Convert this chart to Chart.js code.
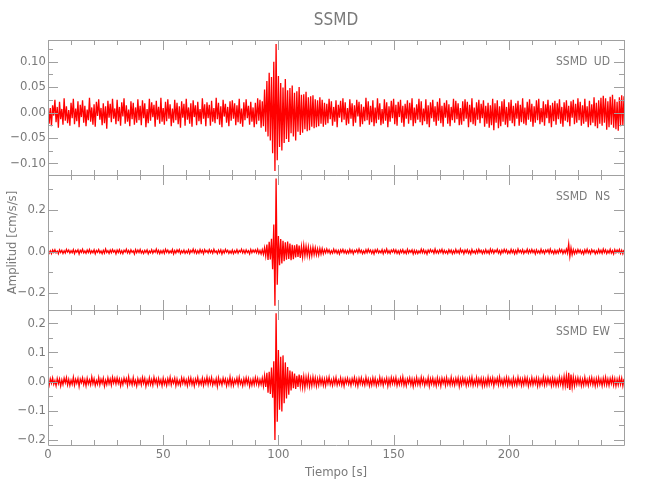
<!DOCTYPE html>
<html>
<head>
<meta charset="utf-8">
<title>SSMD</title>
<script src="https://cdn.jsdelivr.net/npm/chart.js@4.4.0/dist/chart.umd.min.js"></script>
<style>
  html, body { margin: 0; padding: 0; background: #fff; }
  #wrap { position: relative; width: 650px; height: 500px; }
  #wrap canvas { position: absolute; left: 0; top: 0; }
</style>
</head>
<body>
<div id="wrap">
  <canvas id="udChart" width="650" height="500"></canvas>
  <canvas id="nsChart" width="650" height="500"></canvas>
  <canvas id="ewChart" width="650" height="500"></canvas>
</div>
<script>
const station = 'SSMD';
const sampleStep = 0.5;   // seconds between samples
const timeMax = 250;
const timeTicks = [0, 50, 100, 150, 200];

// traces in 1e-3 cm/s/s, one sample every 0.5 s (one row = 10 s)
const udTrace = [
  18,-22,9,-27,14,-6,25,-19,11,-30,21,-13,7,-24,28,-16,12,-21,5,-26,
  19,-11,27,-23,8,-17,22,-29,15,-9,24,-20,13,-27,6,-15,29,-18,10,-24,
  16,-28,21,-7,26,-14,9,-25,18,-21,12,-32,23,-10,17,-19,27,-12,8,-23,
  25,-17,11,-26,20,-8,28,-22,14,-18,6,-27,22,-13,19,-24,10,-20,26,-15,
  13,-25,24,-11,18,-29,7,-21,27,-16,20,-9,15,-28,23,-14,11,-22,29,-18,
  9,-24,21,-17,26,-12,16,-27,8,-20,25,-15,19,-23,12,-30,22,-10,17,-26,
  27,-14,10,-22,18,-28,24,-9,14,-25,21,-17,7,-23,28,-12,16,-27,20,-11,
  15,-26,23,-18,9,-21,29,-13,19,-24,12,-29,25,-8,17,-20,11,-27,22,-16,
  24,-12,18,-25,14,-19,27,-22,8,-28,20,-15,26,-11,13,-24,21,-18,10,-29,
  19,-23,28,-16,25,-30,22,-27,45,-38,62,-47,78,-55,70,-80,100,-115,135,-94,
  72,-68,58,-75,49,-60,66,-52,44,-58,48,-41,53,-47,39,-55,42,-38,50,-44,
  35,-40,36,-33,41,-37,30,-35,32,-28,34,-31,26,-29,24,-27,30,-22,25,-28,
  19,-24,17,-21,27,-13,22,-26,11,-18,24,-29,15,-10,23,-19,28,-14,20,-25,
  9,-22,26,-12,18,-27,14,-20,25,-8,21,-28,16,-23,11,-17,29,-15,22,-24,
  13,-19,24,-27,10,-21,28,-14,18,-25,7,-22,26,-16,20,-29,12,-18,23,-11,
  27,-23,15,-26,21,-9,25,-20,13,-28,17,-12,24,-22,19,-15,28,-27,10,-21,
  16,-14,27,-19,22,-25,8,-17,26,-23,14,-29,20,-11,25,-18,12,-26,21,-16,
  28,-21,13,-28,19,-10,24,-22,16,-27,11,-15,27,-20,23,-13,18,-25,9,-24,
  22,-17,26,-12,21,-29,15,-19,28,-23,10,-26,20,-14,25,-21,17,-11,24,-28,
  13,-22,19,-30,14,-25,27,-35,18,-20,24,-31,12,-27,22,-18,26,-24,11,-29,
  20,-16,25,-21,13,-27,18,-12,23,-26,15,-19,28,-22,10,-25,21,-14,26,-18,
  17,-28,12,-20,24,-15,27,-23,9,-19,22,-26,16,-11,25,-21,14,-29,19,-17,
  23,-24,18,-13,26,-22,11,-28,20,-16,24,-19,13,-27,22,-10,25,-23,17,-20,
  28,-15,21,-26,14,-22,27,-18,12,-29,23,-25,16,-20,30,-27,19,-31,24,-22,
  29,-26,33,-20,28,-34,22,-29,31,-24,35,-30,26,-33,21,-36,30,-27,34,-25,
  32
];
const nsTrace = [
  5,-8,3,-10,7,-4,9,-6,2,-11,8,-5,6,-9,4,-7,10,-3,7,-8,
  4,-6,9,-10,5,-3,8,-12,6,-4,11,-7,3,-9,7,-5,10,-8,4,-6,
  8,-11,5,-4,9,-7,3,-10,6,-8,12,-5,4,-9,7,-6,10,-3,5,-11,
  7,-5,9,-8,4,-10,6,-3,11,-7,5,-9,8,-4,3,-12,9,-6,7,-5,
  10,-7,4,-9,6,-5,8,-11,3,-6,9,-8,5,-4,12,-7,6,-10,4,-8,
  6,-9,11,-4,7,-8,3,-6,10,-12,5,-7,8,-3,9,-10,4,-6,7,-9,
  3,-7,8,-10,5,-4,12,-6,7,-9,4,-8,10,-5,6,-11,9,-3,5,-7,
  9,-5,6,-8,11,-4,3,-10,7,-6,8,-12,5,-7,10,-4,6,-9,3,-8,
  7,-10,4,-6,9,-8,5,-3,11,-7,6,-9,8,-5,4,-11,10,-6,7,-4,
  8,-6,11,-9,5,-12,9,-14,18,-22,34,-41,47,-38,62,-85,130,-262,352,-160,
  75,-66,60,-58,52,-47,44,-40,48,-36,38,-42,33,-37,30,-28,35,-26,29,-31,
  24,-27,30,-21,25,-19,22,-24,17,-20,21,-15,18,-16,13,-17,15,-12,14,-11,
  9,-7,12,-5,8,-10,4,-8,11,-6,7,-9,5,-12,8,-4,10,-7,6,-9,
  4,-8,10,-6,7,-11,5,-3,9,-7,12,-5,6,-10,3,-8,9,-6,11,-4,
  7,-9,5,-12,8,-4,10,-7,3,-6,9,-11,6,-5,12,-8,4,-9,7,-3,
  10,-6,8,-9,4,-11,7,-5,9,-8,3,-10,11,-7,5,-4,8,-12,6,-9,
  5,-10,3,-7,11,-6,9,-8,4,-12,7,-5,10,-3,6,-9,12,-7,5,-8,
  8,-4,11,-9,6,-7,3,-10,9,-5,7,-11,4,-8,10,-6,5,-9,12,-4,
  6,-11,7,-5,9,-8,4,-12,10,-6,3,-9,8,-7,11,-4,6,-10,5,-8,
  9,-7,4,-10,12,-5,8,-9,6,-3,11,-8,5,-12,7,-6,10,-4,8,-9,
  3,-8,10,-6,7,-11,5,-9,12,-4,6,-7,9,-10,4,-5,11,-8,7,-6,
  10,-5,6,-12,8,-7,4,-9,11,-6,5,-10,7,-3,9,-8,12,-6,4,-11,
  7,-9,5,-8,11,-4,9,-10,6,-7,12,-8,37,-24,18,-15,9,-11,6,-8,
  10,-5,7,-9,4,-12,8,-6,11,-7,5,-10,9,-4,6,-11,3,-8,10,-7,
  6,-9,12,-5,8,-10,4,-7,11,-8,5,-12,9,-6,7,-4,10,-9,6,-11,
  8
];
const ewTrace = [
  7,-12,10,-5,13,-9,4,-14,11,-7,9,-15,6,-10,12,-4,14,-11,8,-13,
  5,-9,15,-12,8,-6,11,-16,9,-4,13,-10,7,-14,12,-8,6,-11,16,-7,
  10,-13,4,-9,14,-11,8,-6,12,-15,5,-10,13,-7,9,-12,15,-5,11,-8,
  13,-6,9,-14,7,-10,12,-4,10,-13,16,-8,6,-11,14,-9,5,-15,10,-7,
  8,-11,14,-6,11,-16,5,-9,13,-10,7,-12,15,-5,9,-13,11,-8,6,-14,
  12,-9,6,-13,10,-7,15,-11,8,-5,12,-14,9,-10,4,-12,13,-6,11,-9,
  6,-14,11,-8,13,-10,7,-15,9,-6,14,-11,5,-9,12,-13,8,-7,15,-10,
  11,-7,14,-12,5,-9,10,-16,13,-8,6,-11,12,-5,9,-14,7,-10,16,-12,
  9,-13,7,-6,12,-11,15,-8,5,-14,10,-9,13,-7,11,-15,6,-12,9,-10,
  14,-8,11,-13,7,-10,12,-15,20,-18,30,-38,34,-42,48,-55,70,-200,234,-137,
  108,-96,85,-102,90,-74,66,-58,50,-45,38,-30,35,-22,28,-25,20,-18,24,-16,
  22,-19,17,-21,15,-13,18,-16,12,-14,16,-11,13,-15,10,-12,14,-9,11,-13,
  9,-14,12,-7,15,-10,6,-13,11,-8,14,-12,5,-9,13,-11,8,-15,10,-6,
  12,-9,7,-13,10,-6,14,-11,8,-15,11,-7,13,-10,6,-12,15,-8,9,-14,
  7,-12,13,-9,11,-14,5,-10,15,-8,10,-13,8,-6,12,-15,9,-11,14,-7,
  11,-8,14,-13,6,-10,12,-9,16,-12,7,-14,10,-5,13,-11,9,-16,8,-10,
  14,-10,8,-12,15,-7,11,-13,6,-9,14,-15,10,-8,12,-11,7,-14,13,-9,
  9,-15,12,-6,10,-13,14,-9,7,-11,15,-10,8,-12,11,-7,13,-16,9,-11,
  13,-7,10,-14,8,-11,12,-9,15,-13,6,-10,14,-12,9,-8,11,-15,10,-13,
  8,-12,15,-10,11,-7,13,-14,9,-6,12,-11,16,-9,7,-13,10,-8,14,-12,
  11,-9,6,-14,13,-10,8,-12,15,-7,10,-13,9,-11,14,-8,12,-15,7,-10,
  14,-11,9,-8,12,-15,10,-13,7,-9,16,-12,11,-10,13,-7,9,-14,12,-11,
  10,-13,8,-12,15,-9,12,-16,18,-14,20,-22,30,-28,24,-19,16,-14,12,-10,
  13,-9,11,-14,8,-12,15,-10,7,-13,12,-8,14,-11,9,-15,10,-12,13,-9,
  8,-14,12,-10,15,-11,9,-13,11,-7,14,-12,10,-15,8,-11,13,-9,12,-14,
  10
];

// tick values of each panel
const udTicks = [-0.10, -0.05, 0, 0.05, 0.10];
const nsTicks = [-0.2, 0, 0.2];
const ewTicks = [-0.2, -0.1, 0, 0.1, 0.2];

const fontFamily = "'Liberation Sans Narrow', 'DejaVu Sans Condensed', sans-serif";
const textColor = '#7a7a7a';
const axisColor = '#a0a0a0';
const traceColor = '#ff0000';

Chart.defaults.font.family = fontFamily;
Chart.defaults.color = textColor;

function toPoints(trace) {
  return trace.map((v, i) => ({ x: i * sampleStep, y: v / 1000 }));
}

// frame with inward ticks on all four sides, plus the panel tag
const framePlugin = {
  id: 'frame',
  afterDatasetsDraw(chart, args, opts) {
    const { ctx, chartArea: a } = chart;
    const xs = chart.scales.x, ys = chart.scales.y;
    ctx.save();
    ctx.strokeStyle = axisColor;
    ctx.lineWidth = 1;
    ctx.beginPath();
    ctx.rect(a.left + 0.5, a.top + 0.5, a.right - a.left, a.bottom - a.top);
    for (let t = 0; t <= timeMax; t += 10) {
      const px = Math.round(xs.getPixelForValue(t)) + 0.5;
      const len = t % 50 === 0 ? 10 : 5;
      ctx.moveTo(px, a.top); ctx.lineTo(px, a.top + len);
      ctx.moveTo(px, a.bottom); ctx.lineTo(px, a.bottom - len);
    }
    const k0 = Math.ceil(ys.min / opts.minorStep), k1 = Math.floor(ys.max / opts.minorStep);
    for (let k = k0; k <= k1; k++) {
      const py = Math.round(ys.getPixelForValue(k * opts.minorStep)) + 0.5;
      const len = k % opts.perMajor === 0 ? 10 : 5;
      ctx.moveTo(a.left, py); ctx.lineTo(a.left + len, py);
      ctx.moveTo(a.right, py); ctx.lineTo(a.right - len, py);
    }
    ctx.stroke();

    ctx.fillStyle = textColor;
    ctx.textBaseline = 'middle';
    ctx.font = '12px ' + fontFamily;
    ctx.textAlign = 'left';
    ctx.fillText(station, 556, a.top + 22);
    ctx.textAlign = 'right';
    ctx.fillText(opts.component, 610, a.top + 22);
    if (opts.showTitle) {
      ctx.font = '17px ' + fontFamily;
      ctx.textAlign = 'center';
      ctx.fillText(station, (a.left + a.right) / 2, 21);
    }
    ctx.restore();
  }
};

function makePanel(id, trace, component, ticks, yMin, yMax, minorStep, perMajor, decimals, pad, isBottom, showTitle, yTitle) {
  return new Chart(document.getElementById(id), {
    type: 'line',
    data: {
      datasets: [{
        data: toPoints(trace),
        borderColor: traceColor,
        borderWidth: 1.3,
        pointRadius: 0,
        tension: 0
      }]
    },
    options: {
      responsive: false,
      animation: false,
      events: [],
      layout: { padding: { left: 0, right: 26, top: pad.top, bottom: pad.bottom } },
      plugins: {
        legend: { display: false },
        tooltip: { enabled: false },
        frame: { component: component, minorStep: minorStep, perMajor: perMajor, showTitle: showTitle }
      },
      scales: {
        x: {
          type: 'linear',
          min: 0,
          max: timeMax,
          display: isBottom,
          afterBuildTicks: s => { s.ticks = timeTicks.map(v => ({ value: v })); },
          afterFit: s => { s.height = isBottom ? 55 : 0; },
          grid: { display: false, drawTicks: false },
          border: { display: false },
          ticks: { color: textColor, font: { size: 13 }, padding: 2, maxRotation: 0, autoSkip: false },
          title: { display: true, text: 'Tiempo [s]', color: textColor, font: { size: 13 }, padding: { top: 0, bottom: 20 } }
        },
        y: {
          type: 'linear',
          min: yMin,
          max: yMax,
          afterBuildTicks: s => { s.ticks = ticks.map(v => ({ value: v })); },
          afterFit: s => { s.width = 48; },
          grid: { display: false, drawTicks: false },
          border: { display: false },
          ticks: {
            color: textColor,
            font: { size: 13 },
            padding: 2,
            callback: v => v.toFixed(decimals).replace('-', '\u2212')
          },
          title: { display: !!yTitle, text: yTitle || '', color: textColor, font: { size: 13 }, padding: { top: 5, bottom: 0 } }
        }
      }
    },
    plugins: [framePlugin]
  });
}

makePanel('udChart', udTrace, 'UD', udTicks, -0.123, 0.1427, 0.025, 2, 2, { top: 40, bottom: 325 }, false, true, null);
makePanel('nsChart', nsTrace, 'NS', nsTicks, -0.282, 0.369, 0.1, 2, 1, { top: 175, bottom: 190 }, false, false, 'Amplitud [cm/s/s]');
makePanel('ewChart', ewTrace, 'EW', ewTicks, -0.217, 0.2455, 0.05, 2, 1, { top: 310, bottom: 0 }, true, false, null);
</script>
</body>
</html>
